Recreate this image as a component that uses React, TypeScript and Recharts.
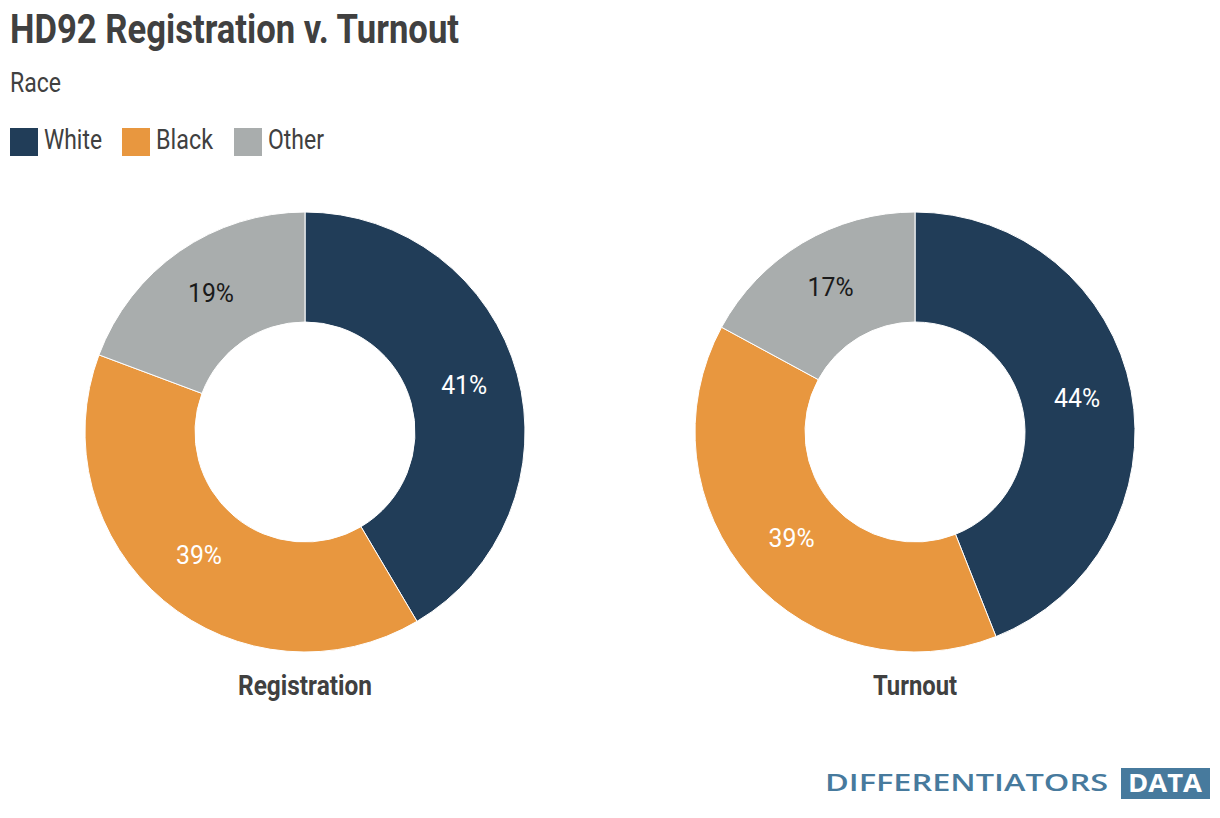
import React from 'react';
import { PieChart, Pie, Cell } from 'recharts';

const categories = ['White', 'Black', 'Other'];
const colors = ['#213d58', '#e8973f', '#a9adad'];
const labelColors = ['#ffffff', '#ffffff', '#1a1a1a'];
const registration = [41.5, 39.2, 19.3];
const registrationLabels = ['41%', '39%', '19%'];
const turnout = [44.0, 38.9, 17.1];
const turnoutLabels = ['44%', '39%', '17%'];

const FONT = 'Roboto, "Liberation Sans", sans-serif';
const LOGO_FONT = '"Open Sans", Lato, sans-serif';
const TEXT = '#404040';
const LOGO = '#477a9d';

const legendX = [10, 122, 234];
const legendTextW = [58, 57, 56];

const regData = categories.map((name, i) => ({ name, value: registration[i], label: registrationLabels[i] }));
const turnData = categories.map((name, i) => ({ name, value: turnout[i], label: turnoutLabels[i] }));

const RAD = Math.PI / 180;

const renderLabel = (props: any) => {
  const { cx, cy, midAngle, innerRadius, outerRadius, index, payload } = props;
  const r = (innerRadius + outerRadius) / 2;
  const x = cx + r * Math.cos(-midAngle * RAD);
  const y = cy + r * Math.sin(-midAngle * RAD);
  return (
    <text
      x={x - 23}
      y={y + 5.5}
      fill={labelColors[index]}
      fontFamily={FONT}
      fontSize={26}
      textLength={46}
      lengthAdjust="spacingAndGlyphs"
    >
      {payload.label}
    </text>
  );
};

const App: React.FC = () => {
  return (
    <div style={{ position: 'relative', width: 1220, height: 818, background: '#fff' }}>
      <style>{'body{margin:0}'}</style>
      <PieChart width={1220} height={818} margin={{ top: 0, right: 0, bottom: 0, left: 0 }}>
        <text x={10} y={43} fontFamily={FONT} fontSize={41} fontWeight="bold" fill={TEXT} textLength={449} lengthAdjust="spacingAndGlyphs">
          HD92 Registration v. Turnout
        </text>
        <text x={10} y={92} fontFamily={FONT} fontSize={27} fill={TEXT} textLength={51} lengthAdjust="spacingAndGlyphs">
          Race
        </text>
        {categories.map((c, i) => (
          <g key={c}>
            <rect x={legendX[i]} y={128} width={28} height={28} fill={colors[i]} />
            <text x={legendX[i] + 34} y={149} fontFamily={FONT} fontSize={27} fill={TEXT} textLength={legendTextW[i]} lengthAdjust="spacingAndGlyphs">
              {c}
            </text>
          </g>
        ))}
        <Pie
          data={regData}
          dataKey="value"
          cx={305}
          cy={432}
          innerRadius={110}
          outerRadius={220}
          startAngle={90}
          endAngle={-270}
          stroke="#ffffff"
          strokeWidth={1}
          label={renderLabel}
          labelLine={false}
          isAnimationActive={false}
        >
          {regData.map((d, i) => (
            <Cell key={d.name} fill={colors[i]} />
          ))}
        </Pie>
        <Pie
          data={turnData}
          dataKey="value"
          cx={915}
          cy={432}
          innerRadius={110}
          outerRadius={220}
          startAngle={90}
          endAngle={-270}
          stroke="#ffffff"
          strokeWidth={1}
          label={renderLabel}
          labelLine={false}
          isAnimationActive={false}
        >
          {turnData.map((d, i) => (
            <Cell key={d.name} fill={colors[i]} />
          ))}
        </Pie>
        <text x={238} y={695} fontFamily={FONT} fontSize={28} fontWeight="bold" fill={TEXT} textLength={134} lengthAdjust="spacingAndGlyphs">
          Registration
        </text>
        <text x={873} y={695} fontFamily={FONT} fontSize={28} fontWeight="bold" fill={TEXT} textLength={84} lengthAdjust="spacingAndGlyphs">
          Turnout
        </text>
        <text x={825} y={791} fontFamily={LOGO_FONT} fontSize={22.5} fontWeight={600} fill={LOGO} textLength={283} lengthAdjust="spacingAndGlyphs">
          DIFFERENTIATORS
        </text>
        <rect x={1121} y={768} width={89} height={31} fill={LOGO} />
        <text x={1128} y={792} fontFamily={LOGO_FONT} fontSize={25} fontWeight="bold" fill="#ffffff" textLength={74} lengthAdjust="spacingAndGlyphs">
          DATA
        </text>
      </PieChart>
    </div>
  );
};

export default App;
